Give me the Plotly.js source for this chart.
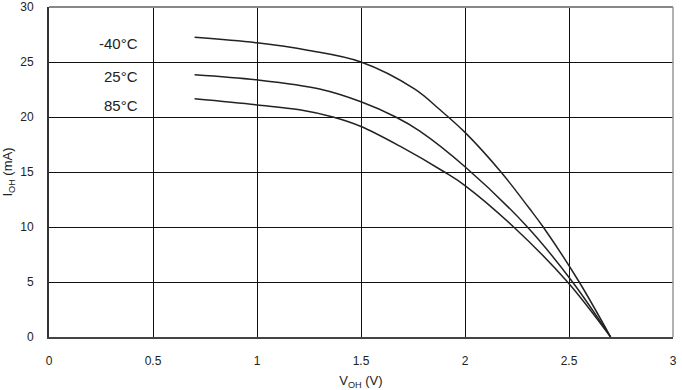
<!DOCTYPE html>
<html>
<head>
<meta charset="utf-8">
<script src="https://cdn.plot.ly/plotly-3.0.1.min.js"></script>
<style>html,body{margin:0;padding:0;background:#fff;}#chart{width:682px;height:390px;}</style>
</head>
<body>
<div id="chart"></div>
<script>
// Data
const seriesNames = ["-40°C", "25°C", "85°C"];
const x_m40 = [0.7, 1.0, 1.25, 1.5, 1.757, 1.877, 2.0, 2.173, 2.309, 2.376, 2.549, 2.70];
const y_m40 = [27.25, 26.75, 26.05, 25.0, 22.55, 20.7, 18.6, 15.0, 11.7, 10.0, 5.0, 0.0];
const x_25 = [0.7, 1.0, 1.301, 1.5, 1.667, 1.781, 2.0, 2.30, 2.517, 2.70];
const y_25 = [23.85, 23.38, 22.55, 21.39, 20.0, 18.74, 15.48, 10.0, 5.0, 0.0];
const x_85 = [0.7, 1.0, 1.205, 1.365, 1.5, 1.685, 1.901, 2.0, 2.234, 2.493, 2.70];
const y_85 = [21.65, 21.1, 20.66, 20.0, 19.14, 17.37, 15.0, 13.77, 10.0, 5.0, 0.0];
const labelX = [0.437, 0.437, 0.437];
const labelY = [26.7, 23.65, 21.05];
const xTicks = [0, 0.5, 1, 1.5, 2, 2.5, 3];
const xTickText = ["0", "0.5", "1", "1.5", "2", "2.5", "3"];
const yTicks = [0, 5, 10, 15, 20, 25, 30];

const xs = [x_m40, x_25, x_85];
const ys = [y_m40, y_25, y_85];

const traces = xs.map((x, i) => ({
  x: x, y: ys[i], type: 'scatter', mode: 'lines', name: seriesNames[i],
  line: {color: '#222', width: 1.5, shape: 'spline', smoothing: 1},
  hoverinfo: 'skip'
}));

const annotations = seriesNames.map((t, i) => ({
  x: labelX[i], y: labelY[i], xref: 'x', yref: 'y', text: t, showarrow: false,
  xanchor: 'right', yanchor: 'middle',
  font: {family: 'Liberation Sans, Arial, sans-serif', size: 15, color: '#222'}
}));

const layout = {
  width: 682, height: 390,
  margin: {l: 49, r: 9, t: 7, b: 53, pad: 0},
  paper_bgcolor: '#fff', plot_bgcolor: '#fff',
  showlegend: false,
  font: {family: 'Liberation Sans, Arial, sans-serif', size: 12, color: '#222'},
  xaxis: {
    range: [0, 3], tickvals: xTicks, ticktext: xTickText,
    showgrid: true, gridcolor: '#111', gridwidth: 1,
    zeroline: false, showline: true, linecolor: '#444', linewidth: 2,
    ticks: '', ticklabelstandoff: 12,
    tickfont: {size: 12, color: '#222'},
    title: {text: 'V<sub>OH</sub> (V)', font: {size: 13, color: '#222'}, standoff: 10}
  },
  yaxis: {
    range: [0, 30], tickvals: yTicks,
    showgrid: true, gridcolor: '#111', gridwidth: 1,
    zeroline: false, showline: true, linecolor: '#333', linewidth: 2,
    ticks: '', ticklabelstandoff: 11,
    tickfont: {size: 12, color: '#222'},
    title: {text: 'I<sub>OH</sub> (mA)', font: {size: 13, color: '#222'}, standoff: 8}
  },
  shapes: [
    {type: 'line', xref: 'paper', yref: 'paper', x0: 0, x1: 1, y0: 1, y1: 1, line: {color: '#888', width: 2}},
    {type: 'line', xref: 'paper', yref: 'paper', x0: 1, x1: 1, y0: 0, y1: 1, line: {color: '#999', width: 1.5}}
  ],
  annotations: annotations
};

Plotly.newPlot('chart', traces, layout, {displayModeBar: false, staticPlot: true});
</script>
</body>
</html>
